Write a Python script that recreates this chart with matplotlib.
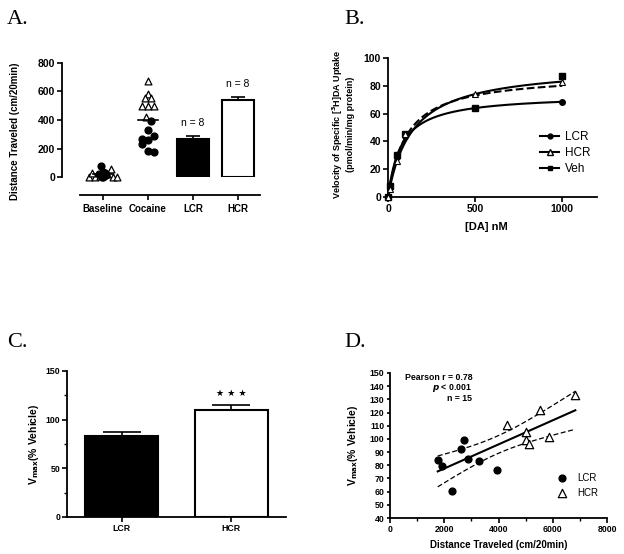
import numpy as np
import matplotlib
matplotlib.use("Agg")
import matplotlib.pyplot as plt
from matplotlib.lines import Line2D
from matplotlib.ticker import MultipleLocator

plt.rcParams["font.family"] = ["Liberation Sans", "DejaVu Sans"]
plt.rcParams["font.weight"] = "bold"
plt.rcParams["axes.labelweight"] = "bold"

# ---- Panel A data ----
a_cats = ["Baseline", "Cocaine", "LCR", "HCR"]
base_hcr = [5, 0, 28, 10, 55, 20, 0, 5]
base_lcr = [80, 40, 30, 20, 15, 10, 5, 0]
coc_hcr = [675, 580, 555, 555, 500, 500, 500, 420]
coc_lcr = [390, 330, 285, 265, 260, 230, 185, 180]
a_bar_means = [270, 540]
a_bar_err = [20, 20]
a_n_labels = ["n = 8", "n = 8"]

# ---- Panel B data ----
da_conc = [0, 10, 50, 100, 500, 1000]
b_lcr = [0, 7, 29, 44, 64, 68.5]
b_hcr = [0, 6, 26, 45, 74, 83]
b_veh = [0, 8, 30, 45, 64, 87]
# Michaelis-Menten fits (Vmax, Km)
fit_lcr = (73.7, 76)
fit_hcr = (94.5, 138)
fit_veh = (88.5, 106)

# ---- Panel C data ----
c_groups = ["LCR", "HCR"]
c_means = [83, 110]
c_err = [4, 5]

# ---- Panel D data ----
d_lcr_x = [1760, 1908, 2302, 2622, 2720, 2868, 3299, 3939]
d_lcr_y = [84.3, 79.7, 60.7, 92.3, 98.9, 85.0, 83.5, 76.2]
d_hcr_x = [4308, 5010, 5010, 5108, 5527, 5847, 6832]
d_hcr_y = [110.8, 105.2, 98.9, 96.1, 122.2, 101.5, 133.6]
d_stats = ["Pearson r = 0.78", "$\\boldsymbol{p}$ < 0.001", "n = 15"]

W, H = 624, 554
fig = plt.figure(figsize=(W / 100, H / 100), dpi=100)


def axes_px(left, right, top, bottom):
    return fig.add_axes([left / W, 1 - bottom / H, (right - left) / W, (bottom - top) / H])


def style(ax, size=7.5):
    for s in ["top", "right"]:
        ax.spines[s].set_visible(False)
    for s in ["left", "bottom"]:
        ax.spines[s].set_linewidth(1.3)
    ax.tick_params(width=1.2, length=3.5, labelsize=size, pad=1.5)
    ax.tick_params(which="minor", width=1.0, length=2.5)


# ---------------- A ----------------
ax = axes_px(62, 260, 62.7, 177.3)
style(ax)
ax.set_xlim(-0.91, 3.49)
ax.set_ylim(0, 800)
ax.spines["left"].set_bounds(0, 800)
ax.spines["bottom"].set_position(("outward", 13))
ax.spines["bottom"].set_bounds(-0.5, 3.5)
ax.set_yticks([0, 200, 400, 600, 800])
ax.set_xticks(range(4))
ax.set_xticklabels(a_cats, fontsize=7)
ax.tick_params(axis="x", pad=3)

mk = dict(s=24, clip_on=False, zorder=4)
tri = dict(marker="^", facecolors="white", edgecolors="black", linewidths=0.9, **mk)
dot = dict(marker="o", color="black", **mk)
base_off_h = [-0.3, -0.18, -0.24, -0.06, 0.18, 0.1, 0.22, 0.32]
base_off_l = [-0.05, 0.0, 0.04, -0.08, 0.07, 0.02, -0.03, 0.0]
coc_off_h = [0.0, 0.0, -0.07, 0.07, -0.13, 0.0, 0.13, -0.05]
coc_off_l = [0.07, 0.0, 0.13, -0.13, 0.0, -0.13, 0.0, 0.13]
ax.scatter(np.array(base_off_h), base_hcr, **tri)
ax.scatter(np.array(base_off_l), base_lcr, **dot)
ax.scatter(1 + np.array(coc_off_h), coc_hcr, **tri)
ax.scatter(1 + np.array(coc_off_l), coc_lcr, **dot)
for xc, vals in [(0, base_hcr + base_lcr), (1, coc_hcr + coc_lcr)]:
    ax.plot([xc - 0.23, xc + 0.23], [np.mean(vals)] * 2, color="black", lw=1.2, zorder=5)

ax.bar([2, 3], a_bar_means, width=0.7, color=["black", "white"], edgecolor="black",
       linewidth=1.5, zorder=3)
ax.errorbar([2, 3], a_bar_means, yerr=[[0, 0], a_bar_err], fmt="none", ecolor="black",
            elinewidth=1.2, capsize=5, capthick=1.2, zorder=2)
for xc, m, e, t in zip([2, 3], a_bar_means, a_bar_err, a_n_labels):
    ax.text(xc, m + e + 90, t, ha="center", va="center", fontsize=7.5, fontweight="normal")
ax.set_ylabel("Distance Traveled (cm/20min)", fontsize=7)
ax.yaxis.set_label_coords(-0.21, 0.4)

# ---------------- B ----------------
ax = axes_px(388, 597, 58, 197)
style(ax)
ax.set_xlim(0, 1200)
ax.set_ylim(0, 100)
ax.set_xticks([0, 500, 1000])
ax.set_yticks(range(0, 101, 20))
xs = np.linspace(0, 1000, 300)
for (vmax, km), ls in [(fit_hcr, "-"), (fit_veh, "--"), (fit_lcr, "-")]:
    ax.plot(xs, vmax * xs / (km + xs), color="black", lw=1.5, ls=ls, clip_on=False)
ax.plot(da_conc, b_lcr, "o", color="black", ms=4, ls="none", clip_on=False, zorder=4)
ax.plot(da_conc, b_veh, "s", color="black", ms=4, ls="none", clip_on=False, zorder=4)
ax.plot(da_conc, b_hcr, "^", mfc="white", mec="black", mew=0.8, ms=4.2, ls="none",
        clip_on=False, zorder=5)
handles = [
    Line2D([], [], color="black", lw=1.5, marker="o", ms=3.5),
    Line2D([], [], color="black", lw=1.5, marker="^", mfc="white", ms=3.8),
    Line2D([], [], color="black", lw=1.5, marker="s", ms=3.5),
]
ax.legend(handles, ["LCR", "HCR", "Veh"], loc="lower right", bbox_to_anchor=(1.02, 0.08),
          frameon=False, prop={"size": 8.5, "weight": "normal"}, handlelength=1.6,
          handletextpad=0.5, labelspacing=0.35)
ax.set_xlabel("[DA] nM", fontsize=8)
ax.xaxis.set_label_coords(0.47, -0.18)
ax.set_ylabel("Velocity of Specific [$^{\\mathbf{3}}$H]DA Uptake\n(pmol/min/mg protein)",
              fontsize=6.5, linespacing=1.1)
ax.yaxis.set_label_coords(-0.16, 0.52)

# ---------------- C ----------------
ax = axes_px(67, 286, 371, 517)
style(ax, size=6.3)
ax.set_xlim(-0.5, 1.5)
ax.set_ylim(0, 150)
ax.set_yticks([0, 50, 100, 150])
ax.yaxis.set_minor_locator(MultipleLocator(25))
ax.set_xticks([0, 1])
ax.set_xticklabels(c_groups)
ax.bar([0, 1], c_means, width=0.67, color=["black", "white"], edgecolor="black",
       linewidth=1.5, zorder=3)
ax.errorbar([0, 1], c_means, yerr=[[0, 0], c_err], fmt="none", ecolor="black",
            elinewidth=1.2, capsize=14, capthick=1.2, zorder=2)
ax.text(1, c_means[1] + c_err[1] + 12, "★ ★ ★", ha="center", va="center", fontsize=6.5,
        family=["DejaVu Sans"])
ax.set_ylabel("V$_{\\mathbf{max}}$(% Vehicle)", fontsize=7.5)
ax.yaxis.set_label_coords(-0.12, 0.5)

# ---------------- D ----------------
ax = axes_px(390, 607, 373, 518)
style(ax, size=6.3)
ax.set_xlim(0, 8000)
ax.set_ylim(40, 150)
ax.set_xticks(range(0, 8001, 2000))
ax.xaxis.set_minor_locator(MultipleLocator(1000))
ax.set_yticks(range(40, 151, 10))
ax.tick_params(axis="y", length=2.5)
allx = np.array(d_lcr_x + d_hcr_x, dtype=float)
ally = np.array(d_lcr_y + d_hcr_y, dtype=float)
slope, icpt = np.polyfit(allx, ally, 1)
n = len(allx)
resid = ally - (slope * allx + icpt)
se = np.sqrt(np.sum(resid ** 2) / (n - 2))
xf = np.linspace(allx.min(), allx.max(), 200)
yf = slope * xf + icpt
band = 2.160 * se * np.sqrt(1 / n + (xf - allx.mean()) ** 2 / np.sum((allx - allx.mean()) ** 2))
ax.plot(xf, yf, color="black", lw=1.5)
ax.plot(xf, yf + band, color="black", lw=0.9, ls=(0, (4, 2)))
ax.plot(xf, yf - band, color="black", lw=0.9, ls=(0, (4, 2)))
ax.scatter(d_lcr_x, d_lcr_y, marker="o", color="black", s=24, zorder=4, label="LCR")
ax.scatter(d_hcr_x, d_hcr_y, marker="^", facecolors="white", edgecolors="black",
           linewidths=0.9, s=36, zorder=4, label="HCR")
ax.legend(loc="lower right", bbox_to_anchor=(1.0, 0.08), frameon=False,
          prop={"size": 7, "weight": "normal"}, handletextpad=0.6, labelspacing=0.5)
for i, t in enumerate(d_stats):
    ax.text(0.38, 0.97 - i * 0.072, t, transform=ax.transAxes, ha="right", va="center",
            fontsize=6.3)
ax.set_xlabel("Distance Traveled (cm/20min)", fontsize=7)
ax.xaxis.set_label_coords(0.5, -0.15)
ax.set_ylabel("V$_{\\mathbf{max}}$(% Vehicle)", fontsize=7.5)
ax.yaxis.set_label_coords(-0.14, 0.5)

# panel letters
for x, y, t in [(7, 24, "A."), (344, 24, "B."), (7, 347, "C."), (344, 347, "D.")]:
    fig.text(x / W, 1 - y / H, t, fontsize=16, family="Liberation Serif",
             fontweight="normal", va="baseline")

fig.savefig("out.png", dpi=100)
